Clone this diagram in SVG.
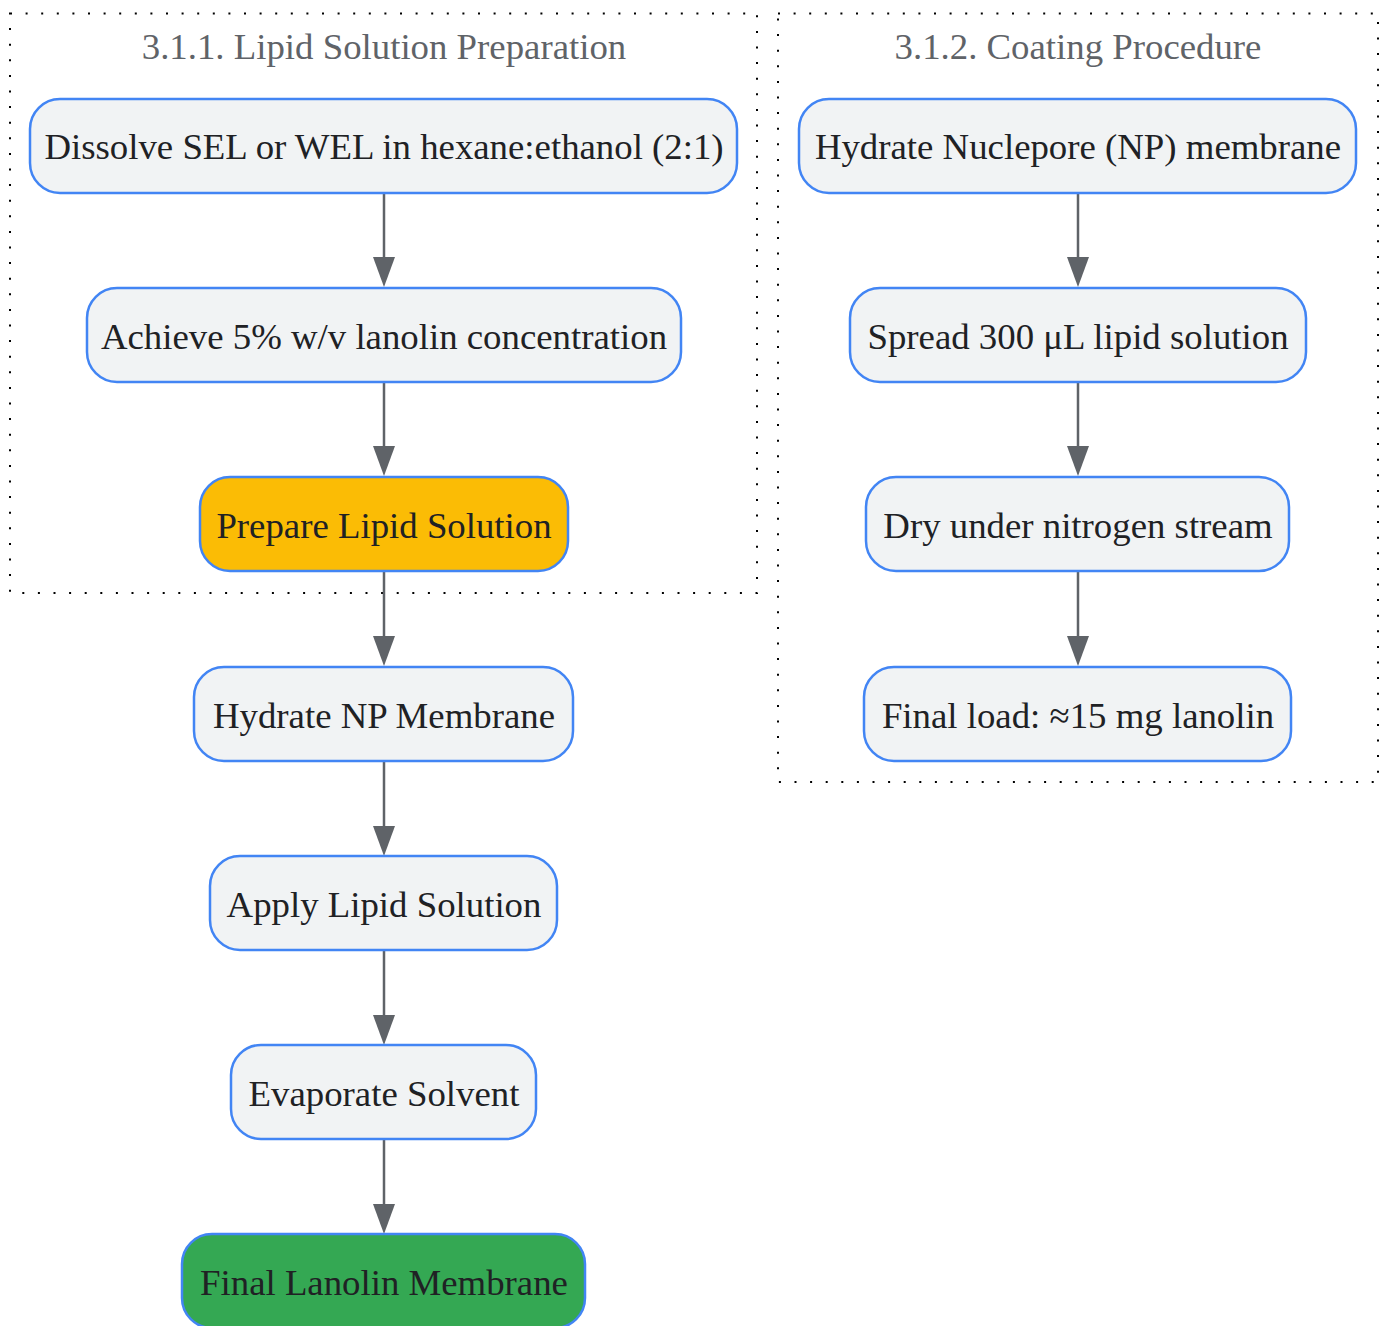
<svg xmlns="http://www.w3.org/2000/svg" width="1387" height="1326" viewBox="0 0 1387 1326">
<defs>
<style>
.cluster{fill:none;stroke:#000;stroke-width:2;stroke-dasharray:2 13.6}
.ctitle{font-family:"Liberation Serif","Times New Roman",serif;font-size:36.8px;fill:#5f6368;text-anchor:middle}
.node rect{fill:#f1f3f4;stroke:#4285f4;stroke-width:2.5}
.node text{font-family:"Liberation Serif","Times New Roman",serif;font-size:36.8px;fill:#202124;text-anchor:middle}
.edge{stroke:#5f6368;stroke-width:2.5;fill:none}
.head{fill:#5f6368}
</style>
</defs>
<rect width="1387" height="1326" fill="#fff"/>
<g id="cluster-prep">
<rect class="cluster" x="10" y="13.5" width="747" height="579.5"/>
<text class="ctitle" x="384" y="59">3.1.1. Lipid Solution Preparation</text>
</g>
<g id="cluster-coat">
<rect class="cluster" x="778" y="13.5" width="600" height="768.5"/>
<text class="ctitle" x="1078" y="59">3.1.2. Coating Procedure</text>
</g>
<g id="edges">
<path class="edge" d="M384,193 V257"/><path class="head" d="M373,257 L395,257 L384,287 Z"/>
<path class="edge" d="M384,382 V446"/><path class="head" d="M373,446 L395,446 L384,476 Z"/>
<path class="edge" d="M384,571 V636"/><path class="head" d="M373,636 L395,636 L384,666 Z"/>
<path class="edge" d="M384,761 V826"/><path class="head" d="M373,826 L395,826 L384,856 Z"/>
<path class="edge" d="M384,950 V1015"/><path class="head" d="M373,1015 L395,1015 L384,1045 Z"/>
<path class="edge" d="M384,1139 V1204"/><path class="head" d="M373,1204 L395,1204 L384,1234 Z"/>
<path class="edge" d="M1078,193 V257"/><path class="head" d="M1067,257 L1089,257 L1078,287 Z"/>
<path class="edge" d="M1078,382 V446"/><path class="head" d="M1067,446 L1089,446 L1078,476 Z"/>
<path class="edge" d="M1078,571 V636"/><path class="head" d="M1067,636 L1089,636 L1078,666 Z"/>
</g>
<g id="n-dissolve" class="node"><rect x="30" y="99" width="707" height="94" rx="30"/><text x="384" y="159">Dissolve SEL or WEL in hexane:ethanol (2:1)</text></g>
<g id="n-achieve" class="node"><rect x="87" y="288" width="594" height="94" rx="30"/><text x="384" y="349">Achieve 5% w/v lanolin concentration</text></g>
<g id="n-prepare" class="node"><rect x="200" y="477" width="368" height="94" rx="30" style="fill:#fbbc05"/><text x="384" y="538">Prepare Lipid Solution</text></g>
<g id="n-hydrate" class="node"><rect x="194" y="667" width="379" height="94" rx="30"/><text x="384" y="728">Hydrate NP Membrane</text></g>
<g id="n-apply" class="node"><rect x="210" y="856" width="347" height="94" rx="30"/><text x="384" y="917">Apply Lipid Solution</text></g>
<g id="n-evaporate" class="node"><rect x="231" y="1045" width="305" height="94" rx="30"/><text x="384" y="1106">Evaporate Solvent</text></g>
<g id="n-final" class="node"><rect x="182" y="1234" width="403" height="94" rx="30" style="fill:#34a853"/><text x="384" y="1295">Final Lanolin Membrane</text></g>
<g id="n-hydrate-np" class="node"><rect x="799" y="99" width="557" height="94" rx="30"/><text x="1078" y="159">Hydrate Nuclepore (NP) membrane</text></g>
<g id="n-spread" class="node"><rect x="850" y="288" width="456" height="94" rx="30"/><text x="1078" y="349">Spread 300 μL lipid solution</text></g>
<g id="n-dry" class="node"><rect x="866" y="477" width="423" height="94" rx="30"/><text x="1078" y="538">Dry under nitrogen stream</text></g>
<g id="n-load" class="node"><rect x="864" y="667" width="427" height="94" rx="30"/><text x="1078" y="728">Final load: ≈15 mg lanolin</text></g>
</svg>
